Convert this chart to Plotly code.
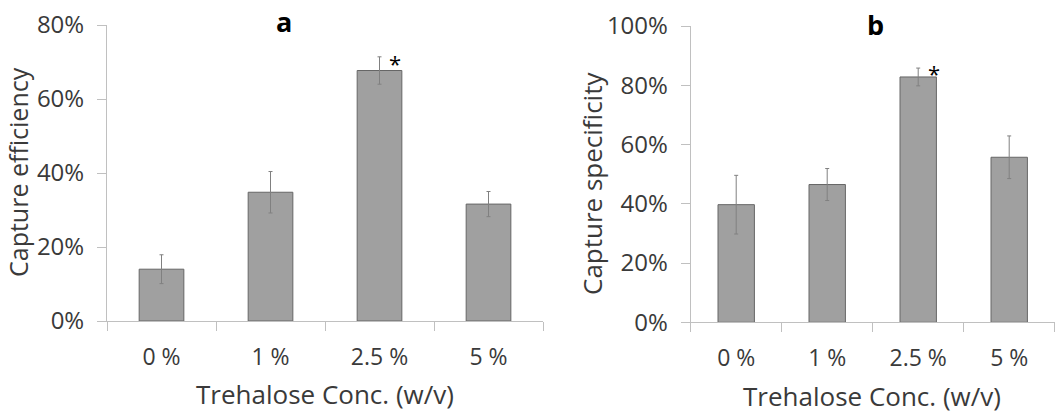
import plotly.graph_objects as go

categories = ["0 %", "1 %", "2.5 %", "5 %"]
efficiency = [0.140, 0.348, 0.677, 0.316]
efficiency_err = [0.039, 0.056, 0.037, 0.034]
specificity = [0.397, 0.465, 0.828, 0.557]
specificity_err = [0.099, 0.054, 0.030, 0.072]
eff_ticks = [0, 0.2, 0.4, 0.6, 0.8]
spec_ticks = [0, 0.2, 0.4, 0.6, 0.8, 1.0]

W, H = 1063, 415
FONT = "Open Sans"
TXT = "#3a3a3a"
BAR = "#a0a0a0"
EDGE = "#666666"
AX = "#c0c0c0"

fig = go.Figure()
fig.add_trace(go.Bar(x=categories, y=efficiency, xaxis="x", yaxis="y", width=0.41,
                     marker=dict(color=BAR, line=dict(color=EDGE, width=1)),
                     error_y=dict(type="data", array=efficiency_err, color="#808080", thickness=1, width=2)))
fig.add_trace(go.Bar(x=categories, y=specificity, xaxis="x2", yaxis="y2", width=0.40,
                     marker=dict(color=BAR, line=dict(color=EDGE, width=1)),
                     error_y=dict(type="data", array=specificity_err, color="#808080", thickness=1, width=2)))

def px(x):
    return x / W

def py(y):
    return 1 - y / H

xcommon = dict(type="category", tickson="boundaries", ticks="outside", ticklen=9, tickcolor=AX,
               showline=True, linecolor=AX, linewidth=1, showgrid=False, zeroline=False, automargin=False,
               tickfont=dict(family=FONT, size=23, color=TXT), ticklabelstandoff=15)
ycommon = dict(ticks="outside", ticklen=9, tickcolor=AX, showline=True, linecolor=AX, linewidth=1,
               showgrid=False, zeroline=False, tickformat=".0%", automargin=False,
               tickfont=dict(family=FONT, size=24, color=TXT), ticklabelstandoff=8)

fig.update_layout(
    template="none",
    width=W, height=H, margin=dict(l=0, r=0, t=0, b=0, autoexpand=False),
    paper_bgcolor="white", plot_bgcolor="white", showlegend=False, bargap=0.5,
    xaxis=dict(domain=[px(107), px(543)], anchor="y", **xcommon),
    yaxis=dict(domain=[py(321), py(25)], anchor="x", range=[0, 0.8], tickvals=eff_ticks, **ycommon),
    xaxis2=dict(domain=[px(690.7), px(1054.7)], anchor="y2", **xcommon),
    yaxis2=dict(domain=[py(322.3), py(26)], anchor="x2", range=[0, 1.0], tickvals=spec_ticks, **ycommon),
)

def note(text, x, y, size, color=TXT, angle=0):
    return dict(text=text, x=px(x), y=py(y), xref="paper", yref="paper", showarrow=False,
                xanchor="center", yanchor="middle", textangle=angle,
                font=dict(family=FONT, size=size, color=color))

ann = [
    note("<b>a</b>", 284, 22, 27, "black"),
    note("<b>b</b>", 875, 24, 27, "black"),
    note("Capture efficiency", 18, 172, 25, angle=-90),
    note("Capture specificity", 592, 184, 26, angle=-90),
    note("Trehalose Conc. (w/v)", 325, 394, 26),
    note("Trehalose Conc. (w/v)", 872, 396, 26),
]
ann.append(dict(text="*", x=categories[2], y=efficiency[2] + efficiency_err[2], xref="x", yref="y",
                showarrow=False, xshift=15, yshift=-6, font=dict(family=FONT, size=22, color="black")))
ann.append(dict(text="*", x=categories[2], y=specificity[2] + specificity_err[2], xref="x2", yref="y2",
                showarrow=False, xshift=16, yshift=-5, font=dict(family=FONT, size=22, color="black")))
fig.update_layout(annotations=ann)

fig.write_html("out.html")
